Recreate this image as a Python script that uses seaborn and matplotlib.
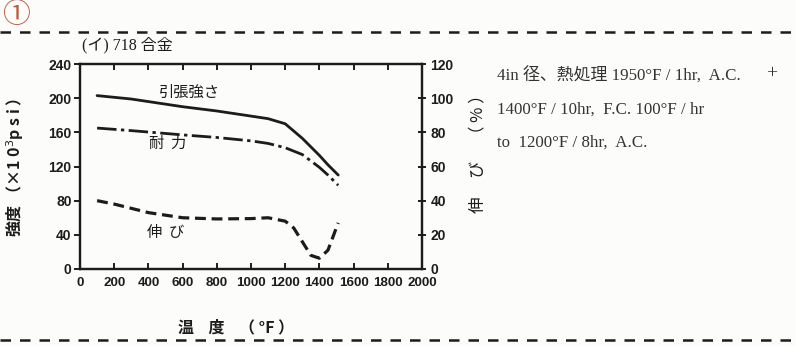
import matplotlib
matplotlib.use("Agg")
import matplotlib.pyplot as plt
from matplotlib.lines import Line2D
import pandas as pd
import seaborn as sns

# Alloy 718: strength and elongation vs. temperature
temp_ts = [100, 300, 600, 800, 1000, 1100, 1200, 1300, 1400, 1450, 1510]
tensile = [203, 199, 190, 185, 179, 176, 170, 153, 133, 122, 110]

temp_ys = [100, 300, 600, 800, 1000, 1100, 1200, 1300, 1400, 1450, 1510]
yield_str = [165, 162, 157, 154, 150, 147, 142, 134, 119, 110, 98]

temp_el = [100, 200, 400, 600, 800, 1000, 1100, 1200, 1250, 1300, 1350, 1400, 1450, 1510]
elong = [40, 38, 33, 30, 29.3, 29.5, 30, 28, 24, 16, 8, 6.3, 11, 27]

x_ticks = [0, 200, 400, 600, 800, 1000, 1200, 1400, 1600, 1800, 2000]
y_ticks = [0, 40, 80, 120, 160, 200, 240]
y2_ticks = [0, 20, 40, 60, 80, 100, 120]

sns.set_style("ticks")
JP = ["Noto Sans CJK JP", "DejaVu Sans"]
NUM = ["DejaVu Sans Condensed", "Liberation Sans Narrow", "Liberation Sans", "DejaVu Sans"]
SERIF = ["Liberation Serif", "Noto Sans CJK JP"]
plt.rcParams["font.family"] = JP

ink = "#1c1c1c"
fig = plt.figure(figsize=(7.96, 3.46), dpi=100, facecolor="#fcfcfa")
ax = fig.add_axes([80 / 796, 1 - 269 / 346, 342 / 796, 205 / 346])
ax.set_facecolor("#fcfcfa")
ax2 = ax.twinx()

df_ts = pd.DataFrame({"T": temp_ts, "v": tensile})
df_ys = pd.DataFrame({"T": temp_ys, "v": yield_str})
df_el = pd.DataFrame({"T": temp_el, "v": elong})

sns.lineplot(data=df_ts, x="T", y="v", ax=ax, color=ink, lw=2.0)
sns.lineplot(data=df_ys, x="T", y="v", ax=ax, color=ink, lw=2.0,
             linestyle=(0, (7, 1.6, 1.2, 1.6)))
sns.lineplot(data=df_el, x="T", y="v", ax=ax2, color=ink, lw=2.3,
             linestyle=(0, (3.4, 1.8)))

ax.set_xlim(0, 2000)
ax.set_ylim(0, 240)
ax2.set_ylim(0, 120)
ax.set_xticks(x_ticks)
ax.set_yticks(y_ticks)
ax2.set_yticks(y2_ticks)
ax.set_xlabel("")
ax.set_ylabel("")
ax2.set_ylabel("")

for a in (ax, ax2):
    for s in a.spines.values():
        s.set_visible(True)
        s.set_linewidth(1.6)
        s.set_color(ink)

ax.tick_params(axis="x", direction="in", length=4, width=1.4, top=True,
               labeltop=False, pad=5.5, colors=ink)
ax.tick_params(axis="y", direction="out", length=4, width=1.4, pad=2, colors=ink)
ax2.tick_params(axis="y", direction="inout", length=6, width=1.4, pad=3, colors=ink)

for lab in ax.get_xticklabels() + ax.get_yticklabels() + ax2.get_yticklabels():
    lab.set_family(NUM)
    lab.set_fontsize(10)
    lab.set_fontweight("bold")
    lab.set_color(ink)
for lab in ax.get_xticklabels():
    lab.set_fontsize(9.6)

# curve labels
ax.text(0.32, 0.862, "引張強さ", transform=ax.transAxes, ha="center", va="center",
        fontsize=11, color=ink, family=JP)
ax.text(0.255, 0.613, "耐  力", transform=ax.transAxes, ha="center", va="center",
        fontsize=11, color=ink, family=JP)
ax.text(0.25, 0.18, "伸  び", transform=ax.transAxes, ha="center", va="center",
        fontsize=11, color=ink, family=JP)

# axis titles
fig.text(15 / 796, 1 - 167 / 346, "強度 （×1 0$^3$p s i ）", rotation=90, ha="center",
         va="center", fontsize=11.5, fontweight="bold", color=ink, family=JP)
fig.text(478 / 796, 1 - 150 / 346, "伸     び     （ % ）", rotation=90, ha="center",
         va="center", fontsize=12, color=ink, family=JP)
fig.text(236 / 796, 1 - 327 / 346, "温    度    （ °F ）", ha="center", va="center",
         fontsize=11.5, fontweight="bold", color=ink, family=JP)

# heading and notes
fig.text(82 / 796, 1 - 45 / 346, "(イ) 718 合金", ha="left", va="center",
         fontsize=11.5, color=ink, family=SERIF)
fig.text(16 / 796, 1 - 15 / 346, "①", ha="center", va="center",
         fontsize=20, color="#b8583c", family=JP)
notes = ["4in 径、熱処理 1950°F / 1hr,  A.C.",
         "1400°F / 10hr,  F.C. 100°F / hr",
         "to  1200°F / 8hr,  A.C."]
for i, line in enumerate(notes):
    fig.text(497 / 796, 1 - (76 + 33.5 * i) / 346, line, ha="left", va="center",
             fontsize=12.2, color="#333333", family=SERIF)
fig.text(772 / 796, 1 - 74 / 346, "+", ha="center", va="center",
         fontsize=14, color="#333333", family=SERIF)

# dashed separator rules
for yy in (32, 340):
    fig.add_artist(Line2D([0, 1], [1 - yy / 346] * 2, transform=fig.transFigure,
                          color=ink, lw=1.8, linestyle=(0, (4.2, 3.6))))

fig.savefig("out.png", dpi=100, facecolor=fig.get_facecolor())
